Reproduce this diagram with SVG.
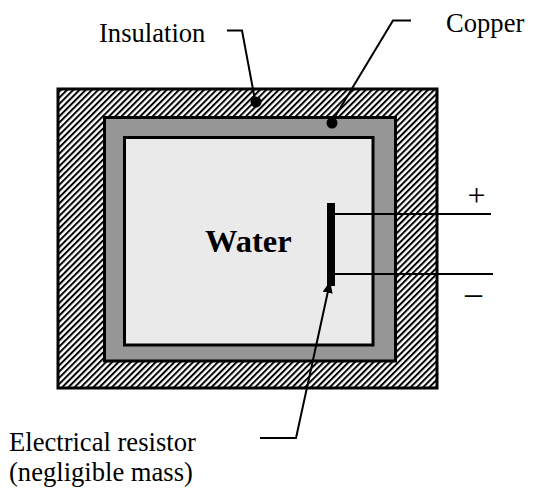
<svg xmlns="http://www.w3.org/2000/svg" width="533" height="494" viewBox="0 0 533 494">
<style>
text{font-family:"Liberation Serif","Times New Roman",serif;fill:#000}
.l{font-size:26.6px}
.w{fill:none;stroke:#000;stroke-width:2}
.box{stroke:#000;stroke-width:3}
</style>
<defs>
<pattern id="hatch" width="4.4" height="4.4" patternUnits="userSpaceOnUse" patternTransform="rotate(-45)">
<rect width="4.4" height="4.4" fill="#fff"/>
<rect width="4.4" height="2" fill="#000"/>
</pattern>
<marker id="arrow" markerWidth="13" markerHeight="12" refX="11" refY="5" orient="auto" markerUnits="userSpaceOnUse">
<path d="M0 0L12 5L0 10Z" fill="#000"/>
</marker>
</defs>
<rect width="533" height="494" fill="#fff"/>
<g id="insulation"><rect class="box" x="58" y="89" width="379" height="299" fill="url(#hatch)"/></g>
<g id="copper"><rect class="box" x="104.500" y="117.500" width="291" height="243.500" fill="#969696"/></g>
<g id="water"><rect class="box" x="124.500" y="137.500" width="248.500" height="207.500" fill="#eaeaea"/>
<text x="205" y="252" font-size="32.500" font-weight="bold">Water</text></g>
<g id="resistor"><rect x="327" y="203" width="8" height="83" fill="#000"/></g>
<g id="connectors">
<path class="w" d="M335 214H491"/>
<path class="w" d="M335 274H493"/>
<path class="w" d="M227 30.500H242L255 100"/>
<circle cx="256" cy="102" r="5.500" fill="#000"/>
<path class="w" d="M411 20.500H393L333 120"/>
<circle cx="332" cy="123" r="5.500" fill="#000"/>
<path class="w" d="M260 438H296L330 282" marker-end="url(#arrow)"/>
</g>
<g id="labels">
<text class="l" x="99" y="42">Insulation</text>
<text class="l" x="446" y="32">Copper</text>
<text class="l" x="9" y="451">Electrical resistor</text>
<text class="l" x="9" y="481">(negligible mass)</text>
<text x="467.500" y="206" font-size="32">+</text>
<text x="465" y="304" font-size="34">–</text>
</g>
</svg>
